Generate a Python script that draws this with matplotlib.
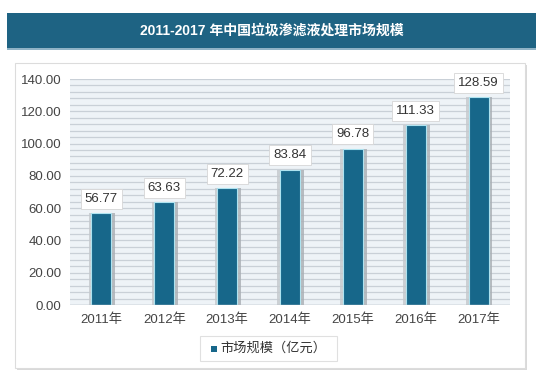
import matplotlib
matplotlib.use("Agg")
import matplotlib.pyplot as plt
from matplotlib.patches import Rectangle
import numpy as np

plt.rcParams['font.family'] = ['Liberation Sans', 'Noto Sans CJK SC', 'DejaVu Sans']

years = ["2011年", "2012年", "2013年", "2014年", "2015年", "2016年", "2017年"]
values = [56.77, 63.63, 72.22, 83.84, 96.78, 111.33, 128.59]
series_name = "市场规模（亿元）"
title = "2011-2017 年中国垃圾渗滤液处理市场规模"
yticks = [0, 20, 40, 60, 80, 100, 120, 140]

W, H = 536, 376
fig = plt.figure(figsize=(W / 100, H / 100), dpi=100)
fig.patch.set_facecolor("white")

def fx(px):
    return px / W

def fy(py):
    return 1 - py / H

def frect(x0, y0, x1, y1, z, **kw):
    r = Rectangle((fx(x0), fy(y1)), fx(x1) - fx(x0), fy(y0) - fy(y1),
                  transform=fig.transFigure, zorder=z, **kw)
    fig.patches.append(r)
    return r

# title banner
frect(7, 13, 536, 48, -3, facecolor="#1e6383", edgecolor="none")
frect(7, 48, 536, 50, -3, facecolor="#8fb3c6", edgecolor="none")
fig.text(fx(272), fy(31), title, color="white", fontsize=10, fontweight="bold",
         ha="center", va="center")

# panel
frect(17, 65, 527, 370, -3, facecolor="#d9d9d9", edgecolor="none")
frect(15, 63, 525, 368, -2, facecolor="white", edgecolor="#dcdcdc", linewidth=0.8)

ax = fig.add_axes([fx(70), fy(305), fx(510) - fx(70), fy(79) - fy(305)])
ax.set_zorder(1)
ax.set_facecolor("#eef3f7")
x = np.arange(len(years))
ax.set_xlim(-0.5, len(years) - 0.5)
ax.set_ylim(0, 140)

for yv in np.arange(0, 141, 4):
    ax.axhline(yv, color="#c9d0d7", linewidth=0.9, zorder=1)

bw = 0.32
ax.bar(x - 0.02, values, width=bw + 0.04, color="#c4c8cc", edgecolor="none", zorder=2, alpha=0.8)
ax.bar(x + 0.03, values, width=bw + 0.06, color="#a9aeb3", edgecolor="none", zorder=2, alpha=0.8)
ax.bar(x, values, width=bw, color="#17678a", edgecolor="#aee3f0", linewidth=0.8, zorder=3)

for xi, v in zip(x, values):
    ax.annotate(f"{v:.2f}", (xi, v), xytext=(0, 6), textcoords="offset points",
                ha="center", va="bottom", fontsize=9.5, color="#333333", zorder=5,
                bbox=dict(boxstyle="square,pad=0.3", facecolor="white", edgecolor="#d6d6d6", linewidth=0.6))

ax.set_xticks(x)
ax.set_xticklabels(years, fontsize=9.5, color="#444444")
ax.set_yticks(yticks)
ax.set_yticklabels([f"{t:.2f}" for t in yticks], fontsize=9.5, color="#444444")
ax.tick_params(length=0, pad=6)
for s in ax.spines.values():
    s.set_visible(False)
ax.axhline(0, color="#b0b8c0", linewidth=1.0, zorder=4)

# legend box
frect(200, 336, 337, 361, 3, facecolor="white", edgecolor="#e0e0e0", linewidth=0.8)
frect(211, 346, 217, 352, 4, facecolor="#17678a", edgecolor="none")
fig.text(fx(220), fy(348.5), series_name, fontsize=9.5, color="#333333", ha="left", va="center", zorder=5)

fig.savefig("out.png", dpi=100, facecolor="white")
